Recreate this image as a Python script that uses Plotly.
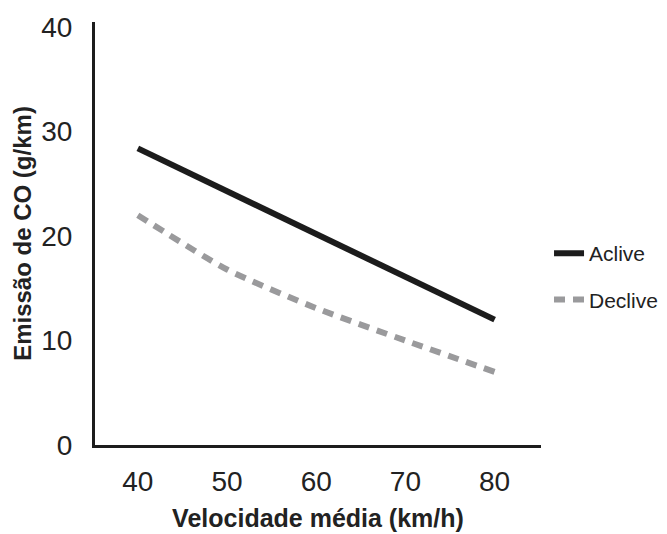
import plotly.graph_objects as go

velocidade = [40, 50, 60, 70, 80]
aclive = [28.4, 24.3, 20.2, 16.1, 12.0]
declive = [22.0, 16.8, 13.1, 10.0, 7.0]

fig = go.Figure()
fig.add_trace(go.Scatter(x=velocidade, y=aclive, mode="lines", name="Aclive",
                         legendgroup="a",
                         line=dict(color="#1c1c1c", width=6)))
fig.add_trace(go.Scatter(x=velocidade, y=declive, mode="lines", name="Declive",
                         legendgroup="d",
                         line=dict(color="#9a9a9c", width=6, dash="11px,8px", shape="spline", smoothing=0.6)))

fig.update_layout(
    width=667, height=534,
    margin=dict(l=87, r=134, t=14, b=97, autoexpand=False),
    paper_bgcolor="white", plot_bgcolor="white",
    font=dict(family="Liberation Sans, Arial", color="#222222"),
    showlegend=True,
    legend=dict(x=1.018, y=0.398, xanchor="left", yanchor="middle",
                font=dict(size=21, color="#222222"), tracegroupgap=16,
                itemwidth=30, bgcolor="rgba(0,0,0,0)"),
    xaxis=dict(range=[35.2, 85.2], tickvals=velocidade, showgrid=False, zeroline=False,
               showline=True, linecolor="#1c1c1c", linewidth=3, automargin=False,
               ticks="", ticklabelstandoff=9,
               tickfont=dict(size=28, color="#222222"),
               title=dict(text="<b>Velocidade média (km/h)</b>", font=dict(size=25, color="#222222"), standoff=14)),
    yaxis=dict(range=[0, 40.5], tickvals=[0, 10, 20, 30, 40], showgrid=False, zeroline=False,
               showline=True, linecolor="#1c1c1c", linewidth=3, automargin=False,
               ticks="", ticklabelstandoff=14,
               tickfont=dict(size=28, color="#222222"),
               title=dict(text="<b>Emissão de CO (g/km)</b>", font=dict(size=24, color="#222222"), standoff=3)),
)

fig.write_html("out.html")
